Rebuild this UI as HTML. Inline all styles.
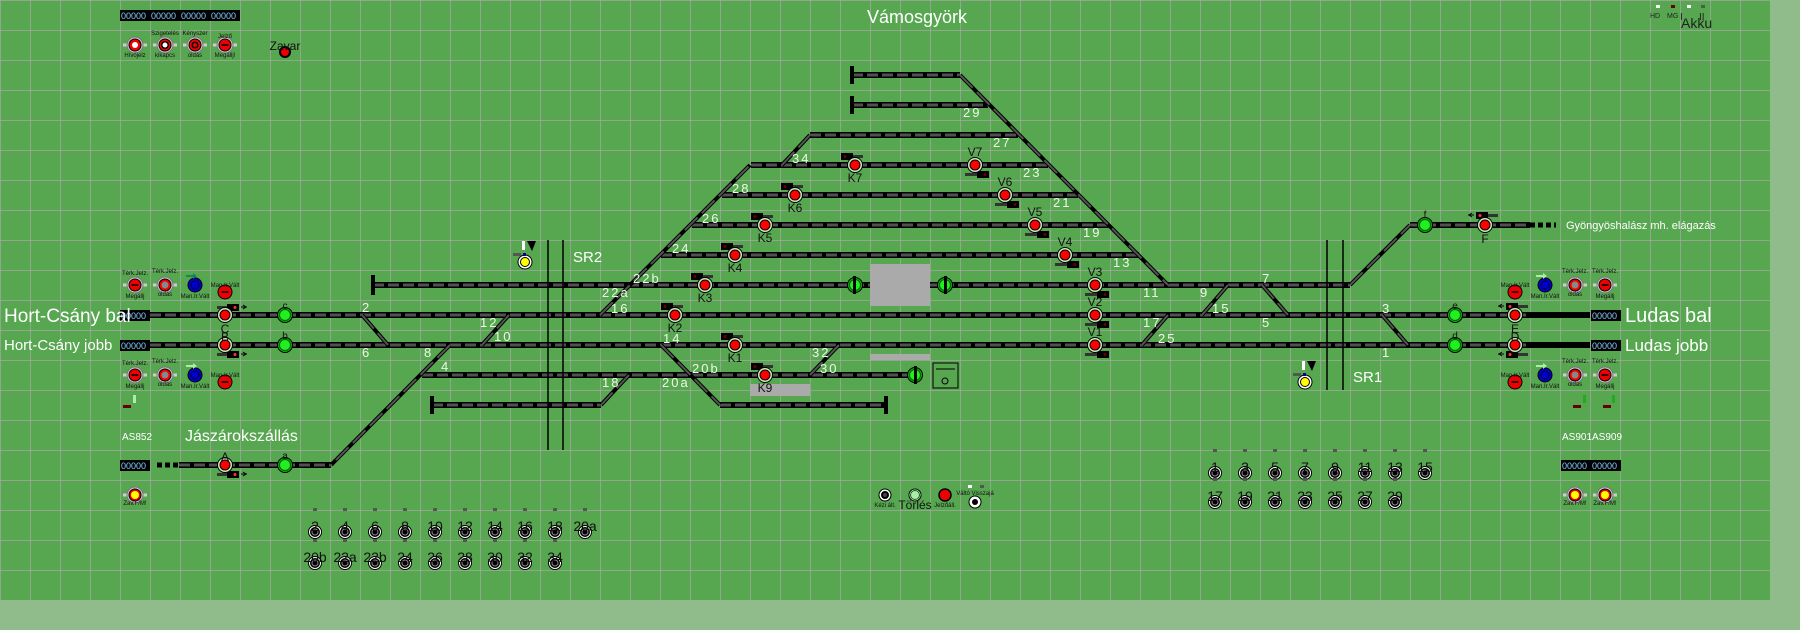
<!DOCTYPE html>
<html><head><meta charset="utf-8"><style>
html,body{margin:0;padding:0;background:#8fbc8a;width:1800px;height:630px;overflow:hidden}
svg{display:block}
text{font-family:"Liberation Sans",sans-serif}
.t1{stroke:#000;stroke-width:6;fill:none}
.t2{stroke:#505050;stroke-width:3;fill:none;stroke-dasharray:11 4}
.d1{stroke:#000;stroke-width:4;fill:none}
.d2{stroke:#555;stroke-width:2;fill:none;stroke-dasharray:18 6}
.lb{fill:#eef8e8;font-size:13px;letter-spacing:2px;font-family:"Liberation Mono",monospace}
.sl{fill:#111;font-size:12px;text-anchor:middle}
.cnt{fill:#8cf;font-size:9px;font-family:"Liberation Mono",monospace}
.bn{fill:#111;font-size:14px;text-anchor:middle}
.tiny{fill:#111;font-size:6px;text-anchor:middle}
</style></head><body>
<svg width="1800" height="630" viewBox="0 0 1800 630" xmlns="http://www.w3.org/2000/svg">
<defs>
<pattern id="g" width="30" height="30" patternUnits="userSpaceOnUse">
<rect width="30" height="30" fill="#57a650"/>
<path d="M0 0H30M0 0V30" stroke="#b4a8b4" stroke-width="1.2"/>
</pattern>
<g id="sr"><circle r="7.5" fill="#c8ecc0" stroke="#000"/><circle r="5" fill="#f00" stroke="#000"/></g>
<g id="sg"><circle r="7.5" fill="#1a1" stroke="#000"/><circle r="5.5" fill="#2e2" stroke="#060"/></g>
<g id="sy"><circle r="7" fill="#fff" stroke="#000"/><circle r="4.5" fill="#ff0" stroke="#000"/></g>
<g id="pr"><rect x="-12" y="-1.5" width="24" height="3" fill="#ccc"/><circle r="8" fill="#ccc" stroke="#777"/><circle r="6" fill="#e00" stroke="#000"/><rect x="-3.5" y="-1" width="7" height="2" fill="#300"/></g>
<g id="pw"><rect x="-12" y="-1.5" width="24" height="3" fill="#ccc"/><circle r="8" fill="#ccc" stroke="#777"/><circle r="6" fill="#e00" stroke="#000"/><circle r="3" fill="#fff"/></g>
<g id="pg"><rect x="-12" y="-1.5" width="24" height="3" fill="#ccc"/><circle r="8" fill="#ccc" stroke="#777"/><circle r="6" fill="#e00" stroke="#000"/><circle r="3.5" fill="#888"/></g>
<g id="pb"><circle r="7" fill="#0000d0" stroke="#000"/><circle r="4" fill="#00c" stroke="#003"/></g>
<g id="pm"><circle r="7" fill="#e00" stroke="#000"/><rect x="-3.5" y="-1" width="7" height="2" fill="#300"/></g>
<g id="pz"><rect x="-12" y="-1.5" width="24" height="3" fill="#ccc"/><circle r="8" fill="#ccc" stroke="#777"/><circle r="6" fill="#e00" stroke="#000"/><circle r="4" fill="#ff0"/></g>
<g id="bt"><circle r="6.5" fill="#fff" stroke="#000"/><circle r="5" fill="#000"/><circle r="3" fill="#000" stroke="#888" stroke-width="1"/><rect x="-2" y="-24" width="4" height="3" fill="#555"/></g>
<g id="hu"><rect x="-14" y="-3" width="12" height="7" fill="#000"/><rect x="-2" y="-1" width="10" height="3" fill="#333"/><circle cx="-10" cy="0.5" r="1.5" fill="#600"/></g>
<g id="hd"><rect x="2" y="-3" width="12" height="7" fill="#000"/><rect x="-10" y="-1" width="12" height="3" fill="#333"/><circle cx="10" cy="0.5" r="1.5" fill="#600"/></g>
<g id="hr"><rect x="-14" y="-3" width="12" height="7" fill="#000"/><rect x="-2" y="-1" width="10" height="3" fill="#333"/><circle cx="-10" cy="0.5" r="1.5" fill="#f33"/><path d="M-16 0h-6M-18 -2l-3 2 3 2" stroke="#000" fill="none"/></g>
<g id="cn"><rect width="30" height="11" fill="#000"/></g>
</defs>
<rect x="0" y="0" width="1770" height="600" fill="url(#g)"/>

<!-- tracks -->
<g class="t1"><path id="tr" d="M373 285H1350M150 315H1530M150 345H1530M661 255H1139M692 225H1108M722 195H1078M751 165H1048M810 135H1018M852 105H988M852 75H960M422 375H915M432 405H601M720 405H886M179 465H331M1410 225H1530"/></g>
<g class="t2"><path d="M373 285H1350M150 315H1530M150 345H1530M661 255H1139M692 225H1108M722 195H1078M751 165H1048M810 135H1018M852 105H988M852 75H960M422 375H915M432 405H601M720 405H886M179 465H331M1410 225H1530"/></g>
<path d="M1530 315H1590M1530 345H1590" stroke="#000" stroke-width="6"/>
<path d="M157 465H179M1530 225H1556" stroke="#000" stroke-width="5" stroke-dasharray="5 3"/>
<g class="d1"><path d="M960 75L1168 285M600 315L750 165M782 165L810 135M661 345L720 405M629 375L601 405M362 315L388 345M509 315L482 345M450 345L331 465M1228 285L1202 315M1262 285L1288 315M1168 315L1142 345M1382 315L1408 345M1350 285L1410 225M810 375L839 345"/></g>
<g class="d2"><path d="M960 75L1168 285M600 315L750 165M782 165L810 135M661 345L720 405M629 375L601 405M362 315L388 345M509 315L482 345M450 345L331 465M1228 285L1202 315M1262 285L1288 315M1168 315L1142 345M1382 315L1408 345M1350 285L1410 225M810 375L839 345"/></g>
<!-- bumpers -->
<g fill="#000"><rect x="371" y="275" width="4" height="20"/><rect x="850" y="66" width="4" height="18"/><rect x="850" y="96" width="4" height="18"/><rect x="430" y="396" width="4" height="18"/><rect x="884" y="396" width="4" height="18"/></g>
<!-- SR lines -->
<path d="M548 240V450M563 240V450M1327 240V390M1343 240V390" stroke="#000" stroke-width="1.5"/>
<!-- grey areas -->
<g fill="#aaa"><rect x="870" y="264" width="60" height="42"/><rect x="870" y="354" width="60" height="6"/><rect x="750" y="384" width="60" height="12"/></g>
<rect x="933" y="363" width="25" height="25" fill="none" stroke="#000"/><path d="M936 369H955" stroke="#000"/><circle cx="945" cy="381" r="3" fill="none" stroke="#000"/>

<!-- track labels -->
<g class="lb">
<text x="963" y="117">29</text><text x="993" y="147">27</text><text x="1023" y="177">23</text><text x="1053" y="207">21</text><text x="1083" y="237">19</text><text x="1113" y="267">13</text><text x="1143" y="297">11</text><text x="1143" y="327">17</text><text x="1158" y="343">25</text>
<text x="792" y="163">34</text><text x="732" y="193">28</text><text x="702" y="223">26</text><text x="672" y="253">24</text><text x="633" y="283">22b</text><text x="602" y="297">22a</text><text x="611" y="313">16</text><text x="663" y="343">14</text><text x="812" y="357">32</text><text x="820" y="373">30</text><text x="692" y="373">20b</text><text x="662" y="387">20a</text><text x="602" y="387">18</text>
<text x="362" y="312">2</text><text x="362" y="357">6</text><text x="480" y="327">12</text><text x="494" y="341">10</text><text x="424" y="357">8</text><text x="441" y="371">4</text>
<text x="1200" y="297">9</text><text x="1212" y="313">15</text><text x="1262" y="283">7</text><text x="1262" y="327">5</text><text x="1382" y="313">3</text><text x="1382" y="357">1</text>
</g>

<!-- signal heads -->
<use href="#hu" x="855" y="156"/><use href="#hu" x="795" y="186"/><use href="#hu" x="765" y="216"/><use href="#hu" x="735" y="246"/><use href="#hu" x="705" y="276"/><use href="#hu" x="675" y="306"/><use href="#hu" x="735" y="336"/><use href="#hu" x="765" y="366"/>
<use href="#hd" x="975" y="174"/><use href="#hd" x="1005" y="204"/><use href="#hd" x="1035" y="234"/><use href="#hd" x="1065" y="264"/><use href="#hd" x="1095" y="294"/><use href="#hd" x="1095" y="324"/><use href="#hd" x="1095" y="354"/>
<g transform="translate(225 307) scale(-1 1)"><use href="#hr"/></g>
<g transform="translate(225 354) scale(-1 1)"><use href="#hr"/></g>
<g transform="translate(225 474) scale(-1 1)"><use href="#hr"/></g>
<use href="#hr" x="1520" y="306"/><use href="#hr" x="1520" y="354"/><use href="#hr" x="1490" y="215"/>

<!-- signals -->
<g>
<use href="#sr" x="225" y="315"/><use href="#sr" x="225" y="345"/><use href="#sr" x="225" y="465"/>
<use href="#sr" x="855" y="165"/><use href="#sr" x="795" y="195"/><use href="#sr" x="765" y="225"/><use href="#sr" x="735" y="255"/><use href="#sr" x="705" y="285"/><use href="#sr" x="675" y="315"/><use href="#sr" x="735" y="345"/><use href="#sr" x="765" y="375"/>
<use href="#sr" x="975" y="165"/><use href="#sr" x="1005" y="195"/><use href="#sr" x="1035" y="225"/><use href="#sr" x="1065" y="255"/><use href="#sr" x="1095" y="285"/><use href="#sr" x="1095" y="315"/><use href="#sr" x="1095" y="345"/>
<use href="#sr" x="1515" y="315"/><use href="#sr" x="1515" y="345"/><use href="#sr" x="1485" y="225"/>
<use href="#sg" x="285" y="315"/><use href="#sg" x="285" y="345"/><use href="#sg" x="285" y="465"/><use href="#sg" x="855" y="285"/><use href="#sg" x="945" y="285"/><use href="#sg" x="915" y="375"/><use href="#sg" x="1425" y="225"/><use href="#sg" x="1455" y="315"/><use href="#sg" x="1455" y="345"/>
<use href="#sy" x="525" y="262"/><use href="#sy" x="1305" y="382"/>
</g>
<g fill="#000"><rect x="853" y="276" width="3" height="18"/><rect x="944" y="276" width="3" height="18"/><rect x="914" y="366" width="3" height="18"/></g>
<g><rect x="522" y="241" width="3" height="9" fill="#fff"/><path d="M527 241h9l-4 10z" fill="#000"/><rect x="513" y="253" width="8" height="3" fill="#555"/><rect x="523" y="253" width="3" height="3" fill="#008"/>
<rect x="1302" y="361" width="3" height="9" fill="#fff"/><path d="M1307 361h9l-4 10z" fill="#000"/><rect x="1293" y="373" width="8" height="3" fill="#555"/><rect x="1303" y="373" width="3" height="3" fill="#008"/></g>
<g class="sl">
<text x="855" y="182">K7</text><text x="795" y="212">K6</text><text x="765" y="242">K5</text><text x="735" y="272">K4</text><text x="705" y="302">K3</text><text x="675" y="332">K2</text><text x="735" y="362">K1</text><text x="765" y="392">K9</text>
<text x="975" y="156">V7</text><text x="1005" y="186">V6</text><text x="1035" y="216">V5</text><text x="1065" y="246">V4</text><text x="1095" y="276">V3</text><text x="1095" y="306">V2</text><text x="1095" y="336">V1</text>
<text x="225" y="333">C</text><text x="225" y="341">B</text><text x="225" y="461">A</text><text x="1515" y="333">E</text><text x="1515" y="341">D</text><text x="1485" y="243">F</text>
<text x="285" y="309" font-size="10">c</text><text x="285" y="339" font-size="10">b</text><text x="285" y="459" font-size="10">a</text><text x="1425" y="218" font-size="10">f</text><text x="1455" y="309" font-size="10">e</text><text x="1455" y="339" font-size="10">d</text>
</g>

<!-- counters -->
<g><use href="#cn" x="120" y="10"/><use href="#cn" x="150" y="10"/><use href="#cn" x="180" y="10"/><use href="#cn" x="210" y="10"/>
<use href="#cn" x="120" y="310"/><use href="#cn" x="120" y="340"/><use href="#cn" x="120" y="460"/><use href="#cn" x="1591" y="310"/><use href="#cn" x="1591" y="340"/><use href="#cn" x="1561" y="460"/><use href="#cn" x="1591" y="460"/></g>
<g class="cnt"><text x="121" y="19">00000</text><text x="151" y="19">00000</text><text x="181" y="19">00000</text><text x="211" y="19">00000</text>
<text x="121" y="319">00000</text><text x="121" y="349">00000</text><text x="121" y="469">00000</text><text x="1592" y="319">00000</text><text x="1592" y="349">00000</text><text x="1562" y="469">00000</text><text x="1592" y="469">00000</text></g>

<!-- panels -->
<use href="#pw" x="135" y="45"/><use href="#pw" x="165" y="45"/><use href="#pr" x="195" y="45"/><use href="#pr" x="225" y="45"/>
<g transform="translate(165 45)"><circle r="4" fill="#000"/><circle r="2.5" fill="#fff"/></g>
<g transform="translate(195 45)"><circle r="3.5" fill="#000"/><circle r="2" fill="#e00"/></g>
<text class="tiny" x="135" y="57" font-size="7">Hívójelz</text><text class="tiny" x="165" y="35">Szigetelés</text><text class="tiny" x="165" y="57" font-size="7">kikapcs</text><text class="tiny" x="195" y="35">Kényszer</text><text class="tiny" x="195" y="57" font-size="9">oldás</text><text class="tiny" x="225" y="38" font-size="10">Jelző</text><text class="tiny" x="225" y="57" font-size="7">Megállj!</text>
<circle cx="285" cy="52" r="5" fill="#e00" stroke="#000" stroke-width="2"/><text x="285" y="50" class="sl" font-size="11">Zavar</text>
<g>
<use href="#pr" x="135" y="285"/><use href="#pg" x="165" y="285"/><use href="#pb" x="195" y="285"/><use href="#pm" x="225" y="292"/>
<use href="#pr" x="135" y="375"/><use href="#pg" x="165" y="375"/><use href="#pb" x="195" y="375"/><use href="#pm" x="225" y="382"/>
<use href="#pm" x="1515" y="292"/><use href="#pb" x="1545" y="285"/><use href="#pg" x="1575" y="285"/><use href="#pr" x="1605" y="285"/>
<use href="#pm" x="1515" y="382"/><use href="#pb" x="1545" y="375"/><use href="#pg" x="1575" y="375"/><use href="#pr" x="1605" y="375"/>
<use href="#pz" x="135" y="495"/><use href="#pz" x="1575" y="495"/><use href="#pz" x="1605" y="495"/>
</g>
<g class="tiny" font-size="9">
<text x="135" y="298">Megállj</text><text x="165" y="296">oldás</text><text x="135" y="388">Megállj</text><text x="165" y="386">oldás</text>
<text x="1575" y="296">oldás</text><text x="1605" y="298">Megállj</text><text x="1575" y="386">oldás</text><text x="1605" y="388">Megállj</text>
</g>
<g class="tiny" font-size="5">
<text x="135" y="275">Térk.Jelz.</text><text x="165" y="273">Térk.Jelz.</text><text x="225" y="287">Man.Ir.Vált</text><text x="195" y="298">Man.Ir.Vált</text>
<text x="135" y="365">Térk.Jelz.</text><text x="165" y="363">Térk.Jelz.</text><text x="225" y="377">Man.Ir.Vált</text><text x="195" y="388">Man.Ir.Vált</text>
<text x="1515" y="287">Man.Ir.Vált</text><text x="1545" y="298">Man.Ir.Vált</text><text x="1575" y="273">Térk.Jelz.</text><text x="1605" y="273">Térk.Jelz.</text>
<text x="1515" y="377">Man.Ir.Vált</text><text x="1545" y="388">Man.Ir.Vált</text><text x="1575" y="363">Térk.Jelz.</text><text x="1605" y="363">Térk.Jelz.</text>
<text x="135" y="505" font-size="6">Zav.F/M!</text><text x="1575" y="505" font-size="6">Zav.F/M!</text><text x="1605" y="505" font-size="6">Zav.F/M!</text>
</g>
<g fill="#185"><path d="M186 275h7v-2l4 3-4 3v-2h-7z"/><path d="M186 365h7v-2l4 3-4 3v-2h-7z" fill="#aea"/><path d="M1536 275h7v-2l4 3-4 3v-2h-7z" fill="#aea"/><path d="M1536 365h7v-2l4 3-4 3v-2h-7z" fill="#aea"/></g>
<g fill="#2a2"><rect x="133" y="395" width="3" height="8" fill="#aea"/><rect x="123" y="405" width="8" height="3" fill="#600"/><rect x="1583" y="395" width="3" height="8"/><rect x="1573" y="405" width="8" height="3" fill="#600"/><rect x="1612" y="395" width="3" height="8"/><rect x="1603" y="405" width="8" height="3" fill="#600"/></g>

<!-- bottom centre -->
<g transform="translate(885 495)"><circle r="6" fill="#fff" stroke="#000"/><circle r="4" fill="#000"/><circle r="2" fill="#444"/></g>
<g transform="translate(915 495)"><circle r="6" fill="#fff" stroke="#000"/><circle r="4.5" fill="#aea" stroke="#060"/></g>
<g transform="translate(945 495)"><circle r="6" fill="#e00" stroke="#000" stroke-width="1.5"/></g>
<g transform="translate(975 502)"><circle r="6" fill="#fff" stroke="#000"/><circle r="3" fill="#000"/></g>
<rect x="968" y="485" width="4" height="3" fill="#fff"/><rect x="980" y="485" width="4" height="3" fill="#555"/>
<text class="tiny" x="885" y="507">Kézi ált.</text><text class="sl" x="915" y="509" font-size="11">Törlés</text><text class="tiny" x="945" y="507" font-size="7">Jelzőáll.</text><text class="tiny" x="975" y="495" font-size="5">Váltó Visszajá</text>

<!-- number buttons -->
<g>
<use href="#bt" x="315" y="532"/><use href="#bt" x="345" y="532"/><use href="#bt" x="375" y="532"/><use href="#bt" x="405" y="532"/><use href="#bt" x="435" y="532"/><use href="#bt" x="465" y="532"/><use href="#bt" x="495" y="532"/><use href="#bt" x="525" y="532"/><use href="#bt" x="555" y="532"/><use href="#bt" x="585" y="532"/>
<use href="#bt" x="315" y="563"/><use href="#bt" x="345" y="563"/><use href="#bt" x="375" y="563"/><use href="#bt" x="405" y="563"/><use href="#bt" x="435" y="563"/><use href="#bt" x="465" y="563"/><use href="#bt" x="495" y="563"/><use href="#bt" x="525" y="563"/><use href="#bt" x="555" y="563"/>
<use href="#bt" x="1215" y="473"/><use href="#bt" x="1245" y="473"/><use href="#bt" x="1275" y="473"/><use href="#bt" x="1305" y="473"/><use href="#bt" x="1335" y="473"/><use href="#bt" x="1365" y="473"/><use href="#bt" x="1395" y="473"/><use href="#bt" x="1425" y="473"/>
<use href="#bt" x="1215" y="502"/><use href="#bt" x="1245" y="502"/><use href="#bt" x="1275" y="502"/><use href="#bt" x="1305" y="502"/><use href="#bt" x="1335" y="502"/><use href="#bt" x="1365" y="502"/><use href="#bt" x="1395" y="502"/>
</g>
<g class="bn">
<text x="315" y="531">2</text><text x="345" y="531">4</text><text x="375" y="531">6</text><text x="405" y="531">8</text><text x="435" y="531">10</text><text x="465" y="531">12</text><text x="495" y="531">14</text><text x="525" y="531">16</text><text x="555" y="531">18</text><text x="585" y="531">20a</text>
<text x="315" y="562">20b</text><text x="345" y="562">22a</text><text x="375" y="562">22b</text><text x="405" y="562">24</text><text x="435" y="562">26</text><text x="465" y="562">28</text><text x="495" y="562">30</text><text x="525" y="562">32</text><text x="555" y="562">34</text>
<text x="1215" y="472">1</text><text x="1245" y="472">3</text><text x="1275" y="472">5</text><text x="1305" y="472">7</text><text x="1335" y="472">9</text><text x="1365" y="472">11</text><text x="1395" y="472">13</text><text x="1425" y="472">15</text>
<text x="1215" y="501">17</text><text x="1245" y="501">19</text><text x="1275" y="501">21</text><text x="1305" y="501">23</text><text x="1335" y="501">25</text><text x="1365" y="501">27</text><text x="1395" y="501">29</text>
</g>

<!-- big labels -->
<g fill="#fff">
<text x="917" y="23" font-size="18" text-anchor="middle">Vámosgyörk</text>
<text x="4" y="322" font-size="19">Hort-Csány bal</text>
<text x="4" y="350" font-size="15">Hort-Csány jobb</text>
<text x="1625" y="322" font-size="20">Ludas bal</text>
<text x="1625" y="351" font-size="17">Ludas jobb</text>
<text x="185" y="441" font-size="16">Jászárokszállás</text>
<text x="122" y="440" font-size="10">AS852</text>
<text x="1562" y="440" font-size="10">AS901</text><text x="1592" y="440" font-size="10">AS909</text>
<text x="573" y="262" font-size="15">SR2</text><text x="1353" y="382" font-size="15">SR1</text>
<text x="1566" y="229" font-size="11">Gyöngyöshalász mh. elágazás</text>
</g>
<g fill="#222"><text x="1650" y="18" font-size="7">HD</text><text x="1667" y="18" font-size="7">MG</text><text x="1681" y="28" font-size="14">Akku</text><text x="1680" y="20" font-size="10">I</text><text x="1699" y="20" font-size="10">II</text></g>
<rect x="1656" y="5" width="4" height="3" fill="#fff"/><rect x="1671" y="5" width="4" height="3" fill="#600"/><rect x="1687" y="5" width="4" height="3" fill="#fff"/><rect x="1701" y="5" width="4" height="3" fill="#555"/>
</svg>
</body></html>
